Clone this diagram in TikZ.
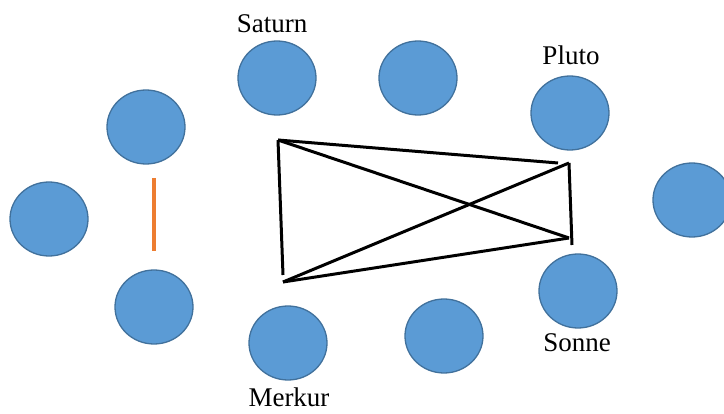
\documentclass[tikz,border=0pt]{standalone}
\usepackage{fontspec}
\setmainfont{Liberation Serif}
\usetikzlibrary{shapes.geometric}
\definecolor{planetblue}{HTML}{5B9BD5}
\definecolor{planetedge}{HTML}{41719C}
\definecolor{linkorange}{HTML}{ED7D31}

\begin{document}
\begin{tikzpicture}[x=1pt,y=-1pt,
  planet/.style={ellipse,fill=planetblue,draw=planetedge,line width=1.3pt,
    minimum width=78pt,minimum height=74pt,inner sep=0pt},
  planetname/.style={font=\fontsize{27}{30}\selectfont,anchor=base,inner sep=0pt},
  chord/.style={line width=3pt,black}]

  \useasboundingbox (0,0) rectangle (724,414);

  % planets
  \foreach \name/\x/\y in {links/49/219, obenlinks/146/127, untenlinks/154/307,
      saturn/277/78, oben/418/78, pluto/570/113, rechts/692/200,
      sonne/578/291, merkur/288/343, unten/444/336} {
    \node[planet] (\name) at (\x,\y) {};
  }

  \node[planetname] (saturnText) at (272,33) {Saturn};
  \node[planetname] (plutoText) at (571,65) {Pluto};
  \node[planetname] (sonneText) at (577,352) {Sonne};
  \node[planetname] (merkurText) at (289,407) {Merkur};

  % orange stroke between the two left planets
  \coordinate (oTop) at (154,178);
  \coordinate (oBot) at (154,251);
  \draw[linkorange,line width=3.5pt] (oTop) -- (oBot);

  % the crossed box
  \coordinate (tl) at (278,140);
  \coordinate (bl) at (283,275);
  \coordinate (blLow) at (283,282);
  \coordinate (tr) at (558,163);
  \coordinate (trIn) at (569,163);
  \coordinate (br) at (569,238);
  \coordinate (brLow) at (572,245);

  \draw[chord] (tl) -- (bl);
  \draw[chord] (tl) -- (tr);
  \draw[chord] (tl) -- (br);
  \draw[chord] (blLow) -- (br);
  \draw[chord] (blLow) -- (trIn);
  \draw[chord] (trIn) -- (brLow);

\end{tikzpicture}
\end{document}
